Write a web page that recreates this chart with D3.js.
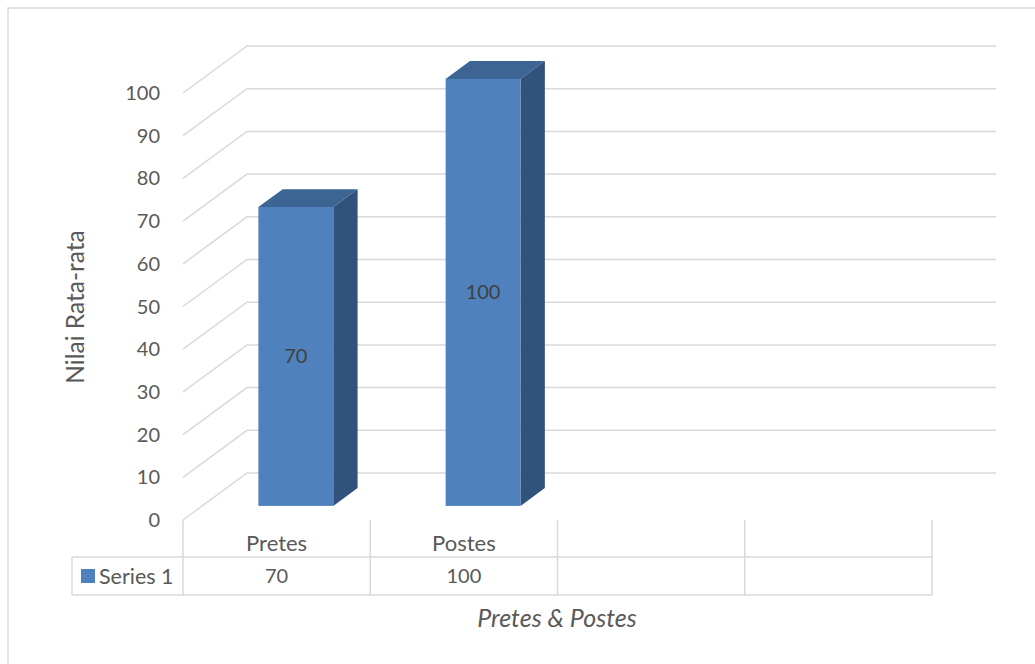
<!DOCTYPE html>
<html lang="en">
<head>
    <meta charset="UTF-8">
    <title>Nilai Rata-rata Pretes & Postes</title>
    <script src="https://d3js.org/d3.v7.min.js"></script>
    <style>
        body { margin: 0; background: #fff; }
        text { font-family: Lato, "Open Sans", sans-serif; fill: #595959; }
    </style>
</head>
<body>
    <div id="chart"></div>

    <script>
        // Data
        const categories = ["Pretes", "Postes", "", ""];
        const values = [70, 100, null, null];
        const yTicks = [0, 10, 20, 30, 40, 50, 60, 70, 80, 90, 100];
        const seriesName = "Series 1";

        const W = 1035, H = 664;
        const gridColor = "#d9d9d9";

        // 3D depth offset (front plane -> back wall)
        const depthX = 64, depthY = -47;
        const barDepth = [0.3, 0.68];

        const svg = d3.select("#chart")
            .append("svg")
            .attr("width", W)
            .attr("height", H);

        // chart border (only top/left visible in frame)
        svg.append("path")
            .attr("d", `M8,${H} L8,8 L${W},8`)
            .attr("fill", "none")
            .attr("stroke", gridColor)
            .attr("stroke-width", 1.5);

        const x = d3.scaleBand()
            .domain(d3.range(categories.length))
            .range([183, 932])
            .paddingInner(0);

        const y = d3.scaleLinear()
            .domain([0, 100])
            .range([520, 93]);

        // back wall gridlines with side-wall diagonals
        svg.selectAll(".grid")
            .data(yTicks)
            .enter().append("polyline")
            .attr("class", "grid")
            .attr("points", d => [
                [x.range()[0], y(d)],
                [x.range()[0] + depthX, y(d) + depthY],
                [x.range()[1] + depthX, y(d) + depthY]
            ].join(" "))
            .attr("fill", "none")
            .attr("stroke", gridColor)
            .attr("stroke-width", 1.5);

        // y tick labels
        svg.selectAll(".ytick")
            .data(yTicks)
            .enter().append("text")
            .attr("class", "ytick")
            .attr("x", 160)
            .attr("y", d => y(d))
            .attr("dy", "0.35em")
            .attr("text-anchor", "end")
            .style("font-size", "20px")
            .text(d => d);

        // bars
        const barData = values.map((v, i) => ({ i, v })).filter(d => d.v != null);
        const barW = x.bandwidth() / 2.5;
        const dx0 = depthX * barDepth[0], dy0 = depthY * barDepth[0];
        const ddx = depthX * (barDepth[1] - barDepth[0]);
        const ddy = depthY * (barDepth[1] - barDepth[0]);

        const bars = svg.selectAll(".bar")
            .data(barData)
            .enter().append("g")
            .attr("class", "bar");

        bars.each(function(d) {
            const g = d3.select(this);
            const x0 = x(d.i) + (x.bandwidth() - barW) / 2 + dx0;
            const x1 = x0 + barW;
            const yTop = y(d.v) + dy0;
            const yBot = y(0) + dy0;

            // top face
            g.append("path")
                .attr("d", `M${x0},${yTop} L${x0 + ddx},${yTop + ddy} L${x1 + ddx},${yTop + ddy} L${x1},${yTop} Z`)
                .attr("fill", "#3c6594");
            // side face
            g.append("path")
                .attr("d", `M${x1},${yTop} L${x1 + ddx},${yTop + ddy} L${x1 + ddx},${yBot + ddy} L${x1},${yBot} Z`)
                .attr("fill", "#31527b");
            // front face
            g.append("rect")
                .attr("x", x0)
                .attr("y", yTop)
                .attr("width", barW)
                .attr("height", yBot - yTop)
                .attr("fill", "#4f81bd");
            // value label
            g.append("text")
                .attr("x", x0 + barW / 2)
                .attr("y", (yTop + yBot) / 2)
                .attr("dy", "0.35em")
                .attr("text-anchor", "middle")
                .style("font-size", "20px")
                .style("fill", "#404040")
                .text(d.v);
        });

        // data table
        const tTop = 520, tMid = 557, tBot = 595, tLeft = 72;
        const lines = [];
        x.domain().forEach(i => lines.push([x(i), tTop, x(i), tBot]));
        lines.push([x.range()[1], tTop, x.range()[1], tBot]);
        lines.push([tLeft, tMid, x.range()[1], tMid]);
        lines.push([tLeft, tBot, x.range()[1], tBot]);
        lines.push([tLeft, tMid, tLeft, tBot]);

        svg.selectAll(".tline")
            .data(lines)
            .enter().append("line")
            .attr("class", "tline")
            .attr("x1", d => d[0]).attr("y1", d => d[1])
            .attr("x2", d => d[2]).attr("y2", d => d[3])
            .attr("stroke", gridColor)
            .attr("stroke-width", 1.5);

        // category labels
        svg.selectAll(".cat")
            .data(categories)
            .enter().append("text")
            .attr("class", "cat")
            .attr("x", (d, i) => x(i) + x.bandwidth() / 2)
            .attr("y", 551)
            .attr("text-anchor", "middle")
            .style("font-size", "22px")
            .text(d => d);

        // table values
        svg.selectAll(".tval")
            .data(values)
            .enter().append("text")
            .attr("class", "tval")
            .attr("x", (d, i) => x(i) + x.bandwidth() / 2)
            .attr("y", 583)
            .attr("text-anchor", "middle")
            .style("font-size", "20px")
            .text(d => d == null ? "" : d);

        // legend key
        svg.append("rect")
            .attr("x", 81)
            .attr("y", 569)
            .attr("width", 14)
            .attr("height", 14)
            .attr("fill", "#4f81bd");

        svg.append("text")
            .attr("x", 99)
            .attr("y", 584)
            .style("font-size", "21.5px")
            .text(seriesName);

        // axis titles
        svg.append("text")
            .attr("transform", "translate(84,307) rotate(-90)")
            .attr("text-anchor", "middle")
            .style("font-size", "24.5px")
            .text("Nilai Rata-rata");

        svg.append("text")
            .attr("x", 557)
            .attr("y", 627)
            .attr("text-anchor", "middle")
            .style("font-size", "25px")
            .style("font-style", "italic")
            .text("Pretes & Postes");
    </script>
</body>
</html>
